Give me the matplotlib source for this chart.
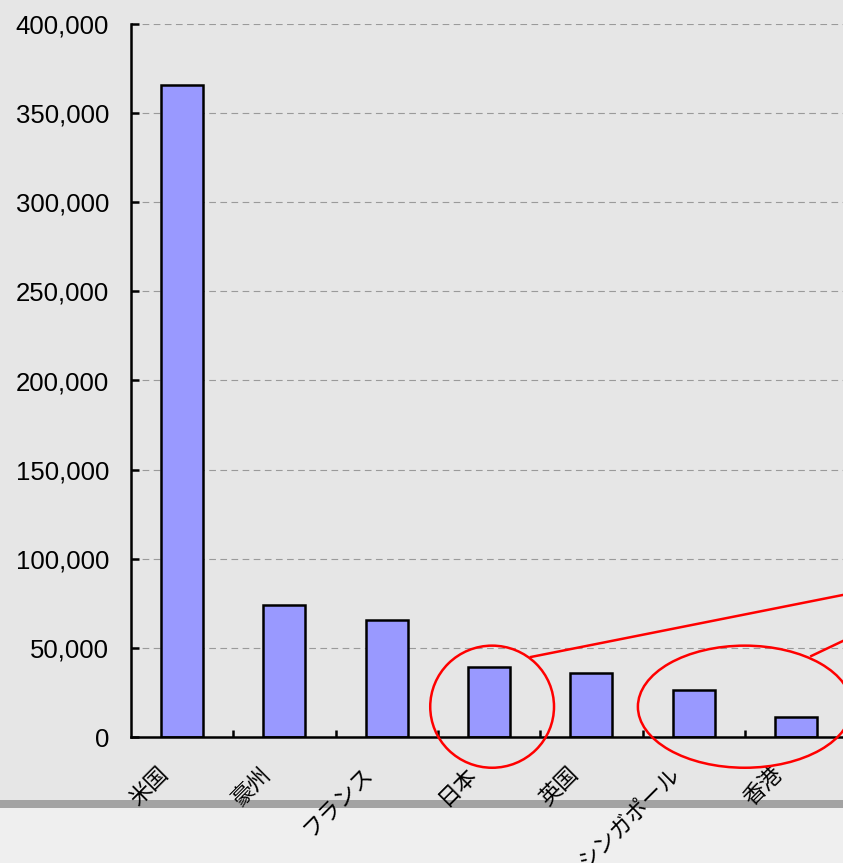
import matplotlib
matplotlib.use("Agg")
import matplotlib.pyplot as plt
from matplotlib.patches import Ellipse, Rectangle
from matplotlib.ticker import FuncFormatter, FixedLocator
from matplotlib.transforms import ScaledTranslation

plt.rcParams['font.family'] = ['Liberation Sans', 'Noto Sans CJK JP', 'DejaVu Sans']

countries = ["米国", "豪州", "フランス", "日本", "英国", "シンガポール", "香港"]
values = [365500, 74100, 65800, 39100, 35800, 26500, 11500]
yticks = [0, 50000, 100000, 150000, 200000, 250000, 300000, 350000, 400000]

# red highlight marks (data coords)
circles = [(3.03, 17000, 1.21, 68500), (5.50, 17000, 2.09, 68500)]
callouts = [((3.41, 6.46), (44900, 79700)), ((6.15, 6.46), (45450, 53900))]

bg = "#E6E6E6"
fig = plt.figure(figsize=(8.43, 8.63), dpi=100, facecolor=bg)

# bottom strip of the slide
fig.add_artist(Rectangle((0, 0), 1, 55/863, transform=fig.transFigure,
                         facecolor="#EFEFEF", edgecolor="none", zorder=-10))
fig.add_artist(Rectangle((0, 55/863), 1, 8/863, transform=fig.transFigure,
                         facecolor="#A3A3A3", edgecolor="none", zorder=-10))

ax = fig.add_axes([131/843, 126/863, 818.4/843, 713/863])
ax.set_facecolor("none")

x = list(range(len(countries)))
ax.bar(x, values, width=0.41, color="#9999FF", edgecolor="black", linewidth=1.8, zorder=2)

ax.set_xlim(-0.5, 7.5)
ax.set_ylim(0, 400000)
ax.set_yticks(yticks)
ax.yaxis.set_major_formatter(FuncFormatter(lambda v, p: "{:,.0f}".format(v)))
ax.grid(axis="y", color="#9A9A9A", linewidth=0.8, linestyle=(0, (6, 4)), zorder=0)
ax.set_axisbelow(True)

for s in ["top", "right"]:
    ax.spines[s].set_visible(False)
for s in ["left", "bottom"]:
    ax.spines[s].set_linewidth(1.8)

ax.tick_params(axis="y", direction="in", length=6, width=1.8, pad=15.8,
               labelsize=18.5)
ax.set_xticks(x)
ax.set_xticklabels(countries, rotation=45, ha="right", va="center",
                   rotation_mode="anchor", fontsize=16,
                   family=["Noto Sans CJK JP", "DejaVu Sans"])
ax.tick_params(axis="x", which="major", length=0, pad=23.8)
ax.xaxis.set_minor_locator(FixedLocator([i + 0.5 for i in range(8)]))
ax.tick_params(axis="x", which="minor", direction="in", length=5, width=1.8)

off = ScaledTranslation(-0.17, 0, fig.dpi_scale_trans)
for lab in ax.get_xticklabels():
    lab.set_transform(lab.get_transform() + off)

for cx, cy, w, h in circles:
    ax.add_patch(Ellipse((cx, cy), w, h, fill=False, edgecolor="red",
                         linewidth=1.8, zorder=5, clip_on=False))
for xs, ys in callouts:
    ax.plot(xs, ys, color="red", linewidth=1.8, zorder=5, clip_on=False)

fig.savefig("out.png", dpi=100, facecolor=bg)
